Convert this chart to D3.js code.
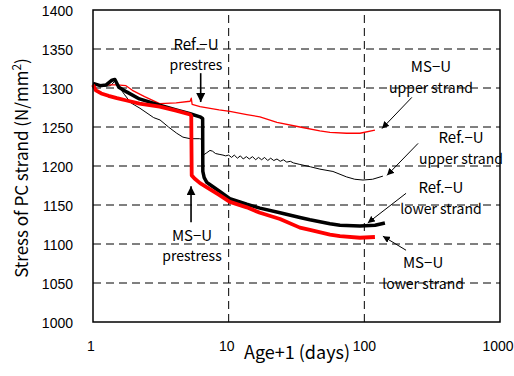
<!DOCTYPE html>
<html>

<head>
    <meta charset="UTF-8">
    <style>
        body { margin: 0; background: #fff; }
        .tick-label { font-family: "Liberation Sans", Arial, sans-serif; font-size: 14px; }
        .note { font-family: "Noto Sans CJK JP", sans-serif; fill: #000; }
    </style>
    <title>PC strand stress</title>
</head>

<body>
    <svg></svg>
    <script src="https://d3js.org/d3.v7.min.js"></script>

    <script>
        let width = 514, height = 376;

        // tick values
        const xTicks = [1, 10, 100, 1000];
        const yTicks = [1000, 1050, 1100, 1150, 1200, 1250, 1300, 1350, 1400];

        // series: [age+1 (days), stress (N/mm2)]
        const refUpper = [[1, 1306], [1.2, 1302], [1.35, 1303], [1.45, 1309], [1.55, 1302], [1.7, 1292], [1.9, 1281],
            [2.22, 1274], [2.8, 1262], [3.12, 1259], [3.6, 1250], [4.14, 1242], [4.6, 1237], [5.2, 1235], [6.1, 1235],
            [6.4, 1234], [6.5, 1214], [6.9, 1217], [7.28, 1220], [7.6, 1219], [8.0, 1216], [8.5, 1215], [9.08, 1214],
            [9.5, 1213], [10, 1214], [10.5, 1211], [11, 1214], [11.6, 1210], [12.2, 1213], [12.8, 1209], [13.5, 1212],
            [14.2, 1209], [15, 1212], [15.8, 1208], [16.6, 1211], [17.5, 1208], [18.4, 1211], [19.4, 1207], [20.4, 1210],
            [21.5, 1207], [22.7, 1209], [24, 1206], [25.3, 1208], [26.8, 1205], [28.5, 1206], [30, 1204], [33.5, 1202],
            [40, 1199], [47, 1196], [58.7, 1193], [74, 1186], [85, 1183], [97.7, 1182], [115, 1183], [137, 1187]];

        const refLower = [[1, 1306], [1.13, 1303], [1.25, 1304], [1.38, 1310], [1.45, 1311], [1.55, 1301], [1.77, 1295],
            [2.2, 1286], [3.1, 1278], [4.1, 1272], [5.2, 1267], [6.15, 1263], [6.43, 1261], [6.45, 1193], [6.6, 1185],
            [6.9, 1179], [7.3, 1176], [8.5, 1168], [10.2, 1158], [13.6, 1151], [17, 1146], [23.9, 1140], [33.5, 1134],
            [39.7, 1131], [55.8, 1126], [66.1, 1124], [92.8, 1123], [120, 1124], [141.8, 1127]];

        const msUpper = [[1, 1303], [1.1, 1304], [1.5, 1304], [1.75, 1303], [1.95, 1297], [2.4, 1289], [3.1, 1280],
            [4.1, 1281], [5.2, 1283], [5.3, 1287], [5.38, 1279], [6.15, 1276], [7.3, 1274], [8.5, 1272], [10.2, 1270],
            [13.6, 1266], [17, 1263], [22.7, 1256], [33.5, 1250], [47, 1245], [55.8, 1243], [74, 1242], [92.8, 1242],
            [119.7, 1246]];

        const msLower = [[1, 1304], [1.05, 1297], [1.15, 1293], [1.3, 1290], [1.5, 1287], [1.77, 1284], [2.2, 1280],
            [3.1, 1276], [4.1, 1271], [5.19, 1266], [5.3, 1264], [5.34, 1188], [5.6, 1184], [6.15, 1178], [7.3, 1170],
            [8.5, 1163], [10.2, 1154], [13.6, 1147], [17, 1140], [23.9, 1132], [33.5, 1121], [39.7, 1118], [55.8, 1112],
            [66.1, 1110], [92.8, 1108], [119.7, 1109]];

        // annotations: [day, stress, first line, second line]
        const notes = [
            [5.74, 1356, "Ref.\u2212U", "prestres"],
            [5.37, 1111, "MS\u2212U", "prestress"],
            [310, 1327, "MS\u2212U", "upper strand"],
            [516, 1236, "Ref.\u2212U", "upper strand"],
            [367, 1172, "Ref.\u2212U", "lower strand"],
            [271, 1076, "MS\u2212U", "lower strand"]
        ];
        // arrows: [day0, stress0, day1, stress1, bold]
        const arrows = [
            [6.22, 1319, 6.22, 1282, true],
            [5.28, 1128, 5.28, 1174, true],
            [224, 1288, 135, 1248, false],
            [249, 1229, 147, 1188, false],
            [203, 1165, 106, 1127, false],
            [203, 1092, 137, 1110, false]
        ];

        let svg = d3.select("svg")
            .attr("width", width)
            .attr("height", height);

        const x = d3.scaleLog().domain([1, 1000]).range([93, 500]);
        const y = d3.scaleLinear().domain([1000, 1400]).range([322, 10]);

        svg.append("defs").selectAll("marker")
            .data(["big", "small"])
            .enter()
            .append("marker")
            .attr("id", d => "head-" + d)
            .attr("viewBox", "0 0 10 10")
            .attr("refX", 10).attr("refY", 5)
            .attr("markerUnits", "userSpaceOnUse")
            .attr("markerWidth", d => d == "big" ? 9 : 7)
            .attr("markerHeight", d => d == "big" ? 9 : 7)
            .attr("orient", "auto")
            .append("path")
            .attr("d", "M0,0L10,5L0,10z")
            .attr("fill", "#000");

        // annotation text (grid is drawn on top, like the original)
        let noteG = svg.append("g");
        notes.forEach(n => {
            noteG.append("text").attr("class", "note")
                .attr("x", x(n[0])).attr("y", y(n[1]) + 5.5)
                .attr("text-anchor", "middle")
                .style("font-size", "15px")
                .text(n[2]);
            noteG.append("text").attr("class", "note")
                .attr("x", x(n[0])).attr("y", y(n[1]) + 5 + 21)
                .attr("text-anchor", "middle")
                .style("font-size", "14px")
                .text(n[3]);
        });

        // grid
        svg.append("g")
            .selectAll("line")
            .data(yTicks.slice(1, -1))
            .enter()
            .append("line")
            .attr("x1", x(1)).attr("x2", x(1000))
            .attr("y1", d => y(d)).attr("y2", d => y(d))
            .attr("stroke", "#000")
            .attr("stroke-dasharray", "8,5");

        svg.append("g")
            .selectAll("line")
            .data(xTicks.slice(1, -1))
            .enter()
            .append("line")
            .attr("x1", d => x(d)).attr("x2", d => x(d))
            .attr("y1", y(1000)).attr("y2", y(1400))
            .attr("stroke", "#000")
            .attr("stroke-dasharray", "8,5");

        // curves
        let line = d3.line().x(d => x(d[0])).y(d => y(d[1]));
        const series = [
            { data: refUpper, color: "#000", w: 1 },
            { data: msUpper, color: "#ff0000", w: 1.3 },
            { data: refLower, color: "#000", w: 3.5 },
            { data: msLower, color: "#ff0000", w: 3.8 }
        ];
        svg.append("g")
            .selectAll("path")
            .data(series)
            .enter()
            .append("path")
            .attr("d", d => line(d.data))
            .attr("fill", "none")
            .attr("stroke", d => d.color)
            .attr("stroke-width", d => d.w)
            .attr("stroke-linejoin", "round");

        // arrows
        svg.append("g")
            .selectAll("line")
            .data(arrows)
            .enter()
            .append("line")
            .attr("x1", d => x(d[0])).attr("y1", d => y(d[1]))
            .attr("x2", d => x(d[2])).attr("y2", d => y(d[3]))
            .attr("stroke", "#000")
            .attr("stroke-width", d => d[4] ? 1.6 : 1)
            .attr("marker-end", d => d[4] ? "url(#head-big)" : "url(#head-small)");

        // frame
        svg.append("rect")
            .attr("x", x(1)).attr("y", y(1400))
            .attr("width", x(1000) - x(1)).attr("height", y(1000) - y(1400))
            .attr("fill", "none")
            .attr("stroke", "#000")
            .attr("stroke-width", 1.5);

        // tick labels
        svg.append("g")
            .selectAll("text")
            .data(yTicks)
            .enter()
            .append("text")
            .attr("class", "tick-label")
            .attr("x", 73).attr("y", d => y(d) + 5.5)
            .attr("text-anchor", "end")
            .text(d => d);

        svg.append("g")
            .selectAll("text")
            .data(xTicks)
            .enter()
            .append("text")
            .attr("class", "tick-label")
            .attr("x", d => x(d) + (d == 100 ? 0 : -2))
            .attr("y", 351)
            .attr("text-anchor", "middle")
            .text(d => d);

        // axis titles
        svg.append("text")
            .attr("class", "note")
            .attr("x", 297).attr("y", 359)
            .attr("text-anchor", "middle")
            .style("font-size", "18px")
            .text("Age+1 (days)");

        let yt = svg.append("text")
            .attr("class", "note")
            .attr("transform", "translate(28,168) rotate(-90)")
            .attr("text-anchor", "middle")
            .style("font-size", "17px");
        yt.append("tspan").text("Stress of PC strand (N/mm");
        yt.append("tspan").attr("dy", -7).style("font-size", "12px").text("2");
        yt.append("tspan").attr("dy", 7).text(")");
    </script>
</body>

</html>
